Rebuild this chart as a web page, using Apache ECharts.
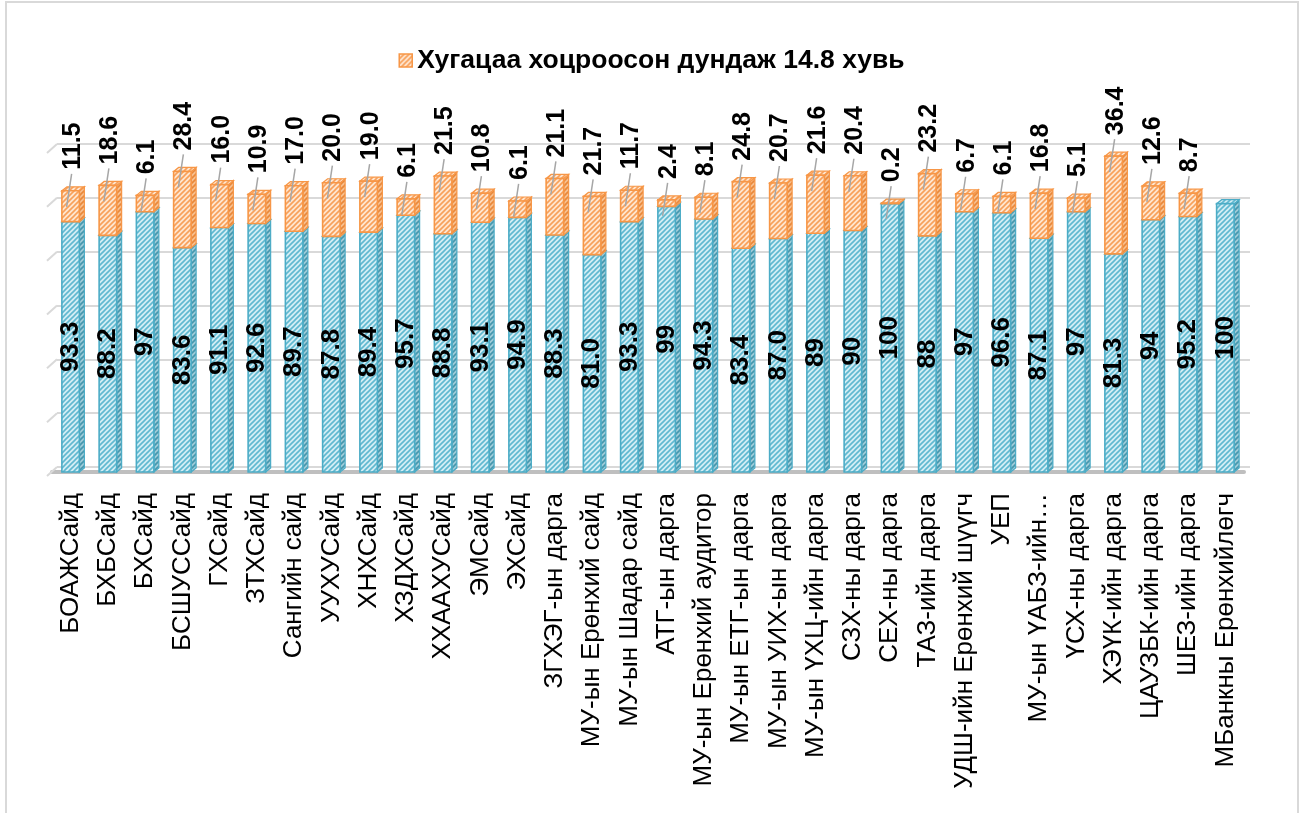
<!DOCTYPE html>
<html>
<head>
<meta charset="utf-8">
<script src="https://cdn.jsdelivr.net/npm/echarts@6/dist/echarts.min.js"></script>
<style>
html,body{margin:0;padding:0;background:#fff;overflow:hidden;}
#wrap{position:relative;width:1303px;height:813px;}
#chartDIV{position:absolute;left:0;top:0;width:1303px;height:813px;}
#frame{position:absolute;left:5px;top:1px;width:1290px;height:860px;border:2px solid #d9d9d9;pointer-events:none;}
</style>
</head>
<body>
<div id="wrap"><div id="chartDIV"></div><div id="frame"></div></div>
<script>
var categories = ['БОАЖСайд', 'БХБСайд', 'БХСайд', 'БСШУССайд', 'ГХСайд', 'ЗТХСайд', 'Сангийн сайд', 'УУХУСайд',
    'ХНХСайд', 'ХЗДХСайд', 'ХХААХУСайд', 'ЭМСайд', 'ЭХСайд', 'ЗГХЭГ-ын дарга', 'МУ-ын Ерөнхий сайд',
    'МУ-ын Шадар сайд', 'АТГ-ын дарга', 'МУ-ын Ерөнхий аудитор', 'МУ-ын ЕТГ-ын дарга', 'МУ-ын УИХ-ын дарга',
    'МУ-ын ҮХЦ-ийн дарга', 'СЗХ-ны дарга', 'СЕХ-ны дарга', 'ТАЗ-ийн дарга', 'УДШ-ийн Ерөнхий шүүгч', 'УЕП',
    'МУ-ын ҮАБЗ-ийн…', 'ҮСХ-ны дарга', 'ХЭҮК-ийн дарга', 'ЦАУЗБК-ийн дарга', 'ШЕЗ-ийн дарга', 'МБанкны Ерөнхийлөгч'];
// shown as in the source (some without decimals)
var onTimeText = ['93.3', '88.2', '97', '83.6', '91.1', '92.6', '89.7', '87.8', '89.4', '95.7', '88.8', '93.1',
    '94.9', '88.3', '81.0', '93.3', '99', '94.3', '83.4', '87.0', '89', '90', '100', '88', '97', '96.6',
    '87.1', '97', '81.3', '94', '95.2', '100'];
var lateText = ['11.5', '18.6', '6.1', '28.4', '16.0', '10.9', '17.0', '20.0', '19.0', '6.1', '21.5', '10.8',
    '6.1', '21.1', '21.7', '11.7', '2.4', '8.1', '24.8', '20.7', '21.6', '20.4', '0.2', '23.2', '6.7', '6.1',
    '16.8', '5.1', '36.4', '12.6', '8.7', null];
var yTicks = [0, 20, 40, 60, 80, 100, 120];
var onTimeName = 'Хугацаандаа';
var lateName = 'Хугацаа хоцроосон дундаж 14.8 хувь';

var FONT = 'Arial, "Liberation Sans", sans-serif';

function hatch(bg, fg) {
    var s = 5;
    var c = document.createElement('canvas');
    c.width = s; c.height = s;
    var ctx = c.getContext('2d');
    ctx.fillStyle = bg;
    ctx.fillRect(0, 0, s, s);
    ctx.strokeStyle = fg;
    ctx.lineWidth = 1.6;
    ctx.beginPath();
    ctx.moveTo(-1, s + 1); ctx.lineTo(s + 1, -1);
    ctx.moveTo(-1, 1); ctx.lineTo(1, -1);
    ctx.moveTo(s - 1, s + 1); ctx.lineTo(s + 1, s - 1);
    ctx.stroke();
    return {image: c, repeat: 'repeat'};
}

var blueFront = hatch('#d2edf4', '#5fb8d0');
var blueSide = hatch('#9fcbd8', '#4597ad');
var orangeFront = hatch('#fee6d0', '#f8a05a');
var orangeSide = hatch('#f6c091', '#e9883a');

var blueData = [], lateData = [];
for (var i = 0; i < categories.length; i++) {
    var ok = Number(onTimeText[i]);
    blueData.push([i, 0, ok]);
    lateData.push(lateText[i] === null ? [i, ok, NaN] : [i, ok, ok + Number(lateText[i])]);
}

function makeBox(front, side, edge, texts, isLate) {
    return function (params, api) {
        var idx = api.value(0), lo = api.value(1), hi = api.value(2);
        if (isNaN(hi)) return;
        var a = api.coord([idx, lo]), b = api.coord([idx, hi]);
        var w = api.size([1, 0])[0] * 0.47;
        var cx = a[0], x = cx - w / 2, y0 = a[1], y1 = b[1];
        var dx = 5, dy = -4;
        var children = [
            {type: 'polygon', shape: {points: [[x + w, y1], [x + w + dx, y1 + dy], [x + w + dx, y0 + dy], [x + w, y0]]},
                style: {fill: side, stroke: edge, lineWidth: 1.2}},
            {type: 'polygon', shape: {points: [[x, y1], [x + dx, y1 + dy], [x + w + dx, y1 + dy], [x + w, y1]]},
                style: {fill: front, stroke: edge, lineWidth: 1.2}},
            {type: 'rect', shape: {x: x, y: y1, width: w, height: y0 - y1},
                style: {fill: front, stroke: edge, lineWidth: 1.6}}
        ];
        var t = texts[params.dataIndex];
        if (!isLate) {
            children.push({type: 'text', x: cx, y: (y0 + y1) / 2, rotation: Math.PI / 2,
                style: {text: t, font: 'bold 26px ' + FONT, fill: '#000', align: 'center', verticalAlign: 'middle'}});
        } else {
            children.push({type: 'line', shape: {x1: cx - 4, y1: y1 + 16, x2: cx + 1, y2: y1 - 17},
                style: {stroke: '#a6a6a6', lineWidth: 1.5}});
            children.push({type: 'text', x: cx + 2, y: y1 - 21, rotation: Math.PI / 2,
                style: {text: t, font: 'bold 25px ' + FONT, fill: '#000', align: 'left', verticalAlign: 'middle'}});
        }
        return {type: 'group', children: children};
    };
}

// short slanted edges of the back wall at the left side
function wallEdge(params, api) {
    var p = api.coord([0, api.value(0)]);
    var left = p[0] - api.size([1, 0])[0] / 2;
    return {type: 'line', shape: {x1: left, y1: p[1], x2: left - 10, y2: p[1] + 9},
        style: {stroke: '#d9d9d9', lineWidth: 2}};
}

var myChart = echarts.init(document.getElementById('chartDIV'));
var option = {
    animation: false,
    backgroundColor: '#fff',
    legend: {
        top: 42,
        left: 'center',
        itemWidth: 13,
        itemHeight: 13,
        itemGap: 6,
        data: [{name: lateName, icon: 'rect', itemStyle: {color: orangeFront, borderColor: '#f79646', borderWidth: 1.5}}],
        textStyle: {fontFamily: FONT, fontWeight: 'bold', fontSize: 26.5, color: '#000'}
    },
    grid: [
        {left: 52, right: 59, top: 150, bottom: 341},
        {left: 57, right: 53, top: 144, bottom: 346}
    ],
    xAxis: [
        {
            type: 'category', gridIndex: 0, data: categories,
            axisLine: {lineStyle: {color: '#bfbfbf', width: 4}},
            axisTick: {show: false},
            axisLabel: {interval: 0, rotate: 90, margin: 21, color: '#000', fontSize: 26, fontFamily: FONT}
        },
        {type: 'category', gridIndex: 1, data: categories, show: false}
    ],
    yAxis: [
        {type: 'value', gridIndex: 0, min: 0, max: 120, interval: 20, show: false, splitLine: {show: false}},
        {
            type: 'value', gridIndex: 1, min: 0, max: 120, interval: 20,
            axisLabel: {show: false}, axisLine: {show: false}, axisTick: {show: false},
            splitLine: {lineStyle: {color: '#d9d9d9', width: 2}}
        }
    ],
    series: [
        {
            name: 'wall', type: 'custom', xAxisIndex: 1, yAxisIndex: 1, silent: true,
            renderItem: wallEdge,
            encode: {y: 0},
            data: yTicks.map(function (v) { return [v]; })
        },
        {
            name: onTimeName, type: 'custom', xAxisIndex: 0, yAxisIndex: 0,
            itemStyle: {color: blueFront},
            renderItem: makeBox(blueFront, blueSide, '#4bacc6', onTimeText, false),
            encode: {x: 0, y: [1, 2]},
            data: blueData
        },
        {
            name: lateName, type: 'custom', xAxisIndex: 0, yAxisIndex: 0,
            itemStyle: {color: orangeFront},
            renderItem: makeBox(orangeFront, orangeSide, '#f79646', lateText, true),
            encode: {x: 0, y: [1, 2]},
            data: lateData
        }
    ]
};
myChart.setOption(option);
</script>
</body>
</html>
